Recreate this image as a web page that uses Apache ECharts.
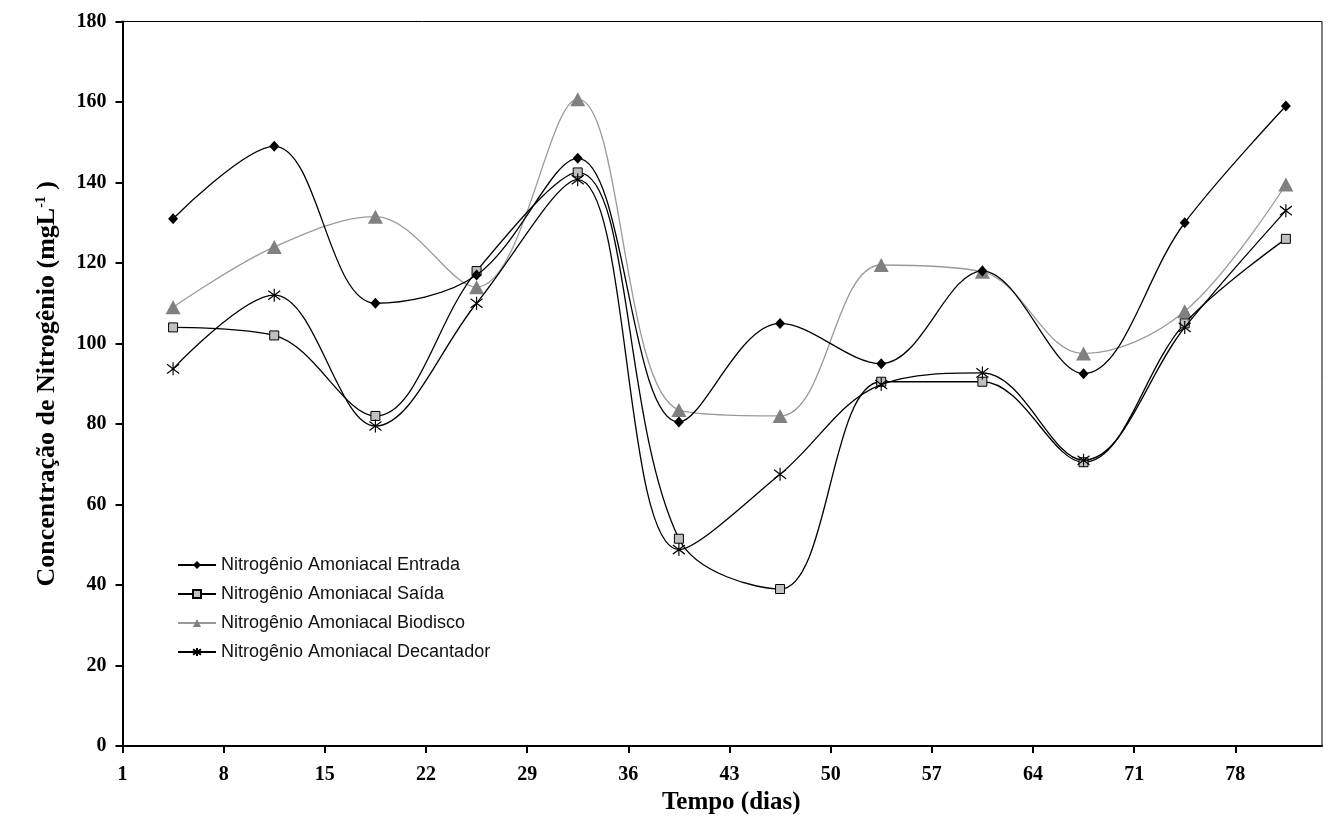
<!DOCTYPE html>
<html>
<head>
<meta charset="utf-8">
<script src="https://cdn.jsdelivr.net/npm/echarts@6/dist/echarts.min.js"></script>
<style>
  html, body { margin: 0; padding: 0; background: #fff; }
  #chart { width: 1330px; height: 825px; }
</style>
</head>
<body>
<div id="chart"></div>
<script>
// Sampling days and ammonia-nitrogen concentrations (mg/L)
const dias = [4.5, 11.5, 18.5, 25.5, 32.5, 39.5, 46.5, 53.5, 60.5, 67.5, 74.5, 81.5];
const entrada = [131, 149, 110, 117, 146, 80.5, 105, 95, 118, 92.5, 130, 159];
const saida = [104, 102, 82, 118, 142.5, 51.5, 39, 90.5, 90.5, 70.5, 105, 126];
const biodisco = [109, 124, 131.5, 114, 160.7, 83.5, 82, 119.5, 117.8, 97.5, 108, 139.5];
const decantador = [93.7, 112, 79.5, 110, 140.7, 48.8, 67.5, 89.8, 92.7, 71, 104, 133];

// Axis tick labels
const diasTicks = [1, 8, 15, 22, 29, 36, 43, 50, 57, 64, 71, 78];
const concTicks = [0, 20, 40, 60, 80, 100, 120, 140, 160, 180];

const nomes = [
  'Nitrogênio Amoniacal Entrada',
  'Nitrogênio Amoniacal Saída',
  'Nitrogênio Amoniacal Biodisco',
  'Nitrogênio Amoniacal Decantador'
];

const pares = vals => dias.map((d, i) => [d, vals[i]]);

const serif = '"Liberation Serif", "Times New Roman", serif';
const sans = '"Liberation Sans", Arial, sans-serif';
const asterisco = 'path://M10,0L10,20M1,3L19,17M1,17L19,3';
const suave = 0.36;

const chart = echarts.init(document.getElementById('chart'), null, { renderer: 'canvas' });

chart.setOption({
  backgroundColor: '#fff',
  animation: false,
  grid: {
    left: 122.5, right: 8, top: 21.5, bottom: 79,
    show: true, borderColor: '#000', borderWidth: 1, backgroundColor: 'transparent'
  },
  legend: {
    orient: 'vertical',
    left: 177, top: 555, padding: 0,
    itemWidth: 38, itemHeight: 10, itemGap: 9,
    data: nomes,
    textStyle: { fontFamily: sans, fontSize: 18, color: '#111', lineHeight: 20 }
  },
  xAxis: {
    type: 'value',
    min: 1, max: 84,
    name: 'Tempo (dias)',
    nameLocation: 'middle',
    nameGap: 42,
    nameTextStyle: { fontFamily: serif, fontWeight: 'bold', fontSize: 25, color: '#000', padding: [0, 0, 0, 18] },
    axisLine: { show: true, lineStyle: { color: '#000', width: 2 } },
    axisTick: { show: true, customValues: diasTicks, length: 7, lineStyle: { color: '#000', width: 2 } },
    axisLabel: { customValues: diasTicks, fontFamily: serif, fontWeight: 'bold', fontSize: 20, color: '#000', margin: 19 },
    splitLine: { show: false }
  },
  yAxis: {
    type: 'value',
    min: 0, max: 180, interval: 20,
    name: '{t|Concentração de Nitrogênio (mgL}{s|-1}{t| )}',
    nameLocation: 'middle',
    nameRotate: 90,
    nameGap: 62,
    nameTextStyle: {
      rich: {
        t: { fontFamily: serif, fontWeight: 'bold', fontSize: 26, color: '#000', verticalAlign: 'bottom' },
        s: { fontFamily: serif, fontWeight: 'bold', fontSize: 14, color: '#000', verticalAlign: 'top' }
      }
    },
    axisLine: { show: true, lineStyle: { color: '#000', width: 2 } },
    axisTick: { show: true, customValues: concTicks, length: 7, lineStyle: { color: '#000', width: 2 } },
    axisLabel: { customValues: concTicks, fontFamily: serif, fontWeight: 'bold', fontSize: 20, color: '#000', margin: 16 },
    splitLine: { show: false }
  },
  series: [
    {
      name: nomes[0], type: 'line', data: pares(entrada), smooth: suave,
      symbol: 'diamond', symbolSize: [10, 11],
      itemStyle: { color: '#000' },
      lineStyle: { color: '#000', width: 1.3 }, z: 4
    },
    {
      name: nomes[1], type: 'line', data: pares(saida), smooth: suave,
      symbol: 'rect', symbolSize: 9,
      itemStyle: { color: '#c0c0c0', borderColor: '#000', borderWidth: 1 },
      lineStyle: { color: '#000', width: 1.3 }, z: 3
    },
    {
      name: nomes[2], type: 'line', data: pares(biodisco), smooth: suave,
      symbol: 'triangle', symbolSize: [15, 14],
      itemStyle: { color: '#808080' },
      lineStyle: { color: '#9a9a9a', width: 1.3 }, z: 2
    },
    {
      name: nomes[3], type: 'line', data: pares(decantador), smooth: suave,
      symbol: asterisco, symbolSize: [12, 13],
      itemStyle: { color: '#000', borderColor: '#000', borderWidth: 1.2 },
      lineStyle: { color: '#000', width: 1.3 }, z: 5
    }
  ]
});
</script>
</body>
</html>
